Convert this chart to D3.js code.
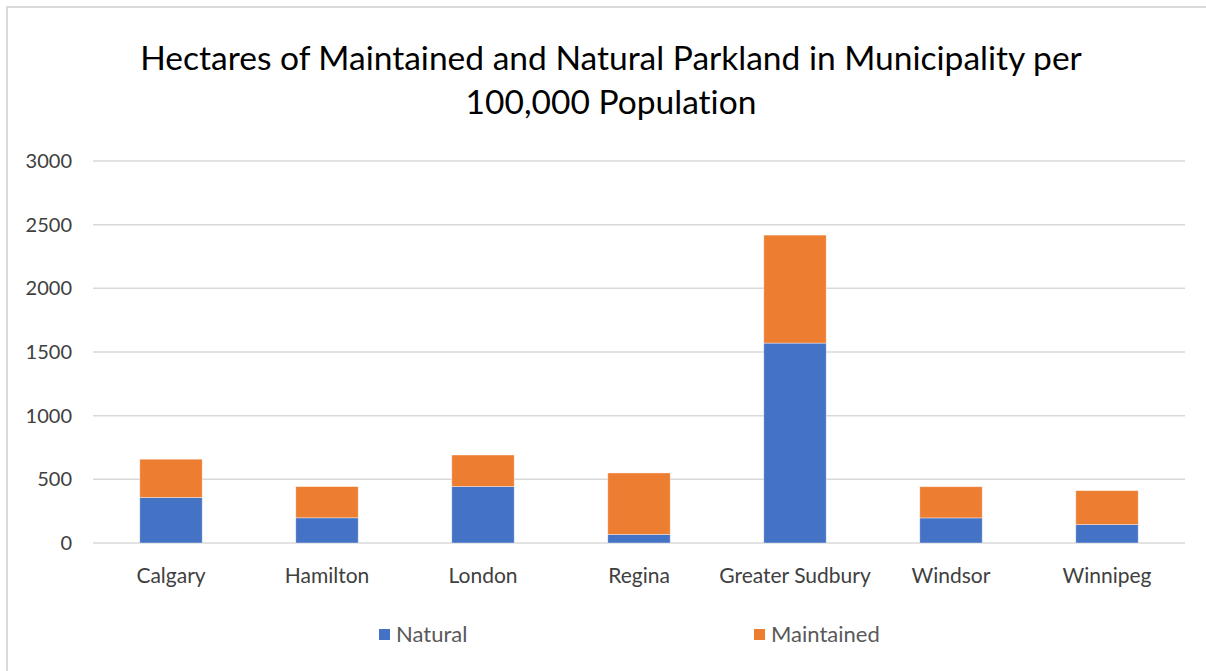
<!DOCTYPE html>
<html>
<head>
<meta charset="utf-8">
<script src="https://cdn.jsdelivr.net/npm/d3@7"></script>
<style>
  body { margin: 0; background: #fff; }
  svg text { font-family: Lato, "Open Sans", sans-serif; font-variant-ligatures: none; }
</style>
</head>
<body>
<div id="chart"></div>
<script>
// data
const cities = ["Calgary", "Hamilton", "London", "Regina", "Greater Sudbury", "Windsor", "Winnipeg"];
const natural = [358, 198, 444, 68, 1570, 197, 145];
const maintained = [300, 245, 247, 482, 848, 245, 266];
const seriesNames = ["Natural", "Maintained"];
const yTicks = [0, 500, 1000, 1500, 2000, 2500, 3000];
const titleLines = ["Hectares of Maintained and Natural Parkland in Municipality per", "100,000 Population"];

const W = 1206, H = 671;
const margin = {top: 161, right: 21, bottom: 128, left: 93};

const colors = d3.scaleOrdinal().domain(seriesNames).range(["#4472C4", "#ED7D31"]);

const svg = d3.select("#chart").append("svg")
  .attr("width", W)
  .attr("height", H);

// frame (only top and left edges show in the original)
svg.append("path")
  .attr("d", "M7,671 V7 H1206")
  .attr("fill", "none")
  .attr("stroke", "#d9d9d9")
  .attr("stroke-width", 2);

// title, sized to match the original width
const title = svg.append("g").attr("class", "title");
const line1 = title.append("text")
  .attr("x", 611).attr("y", 70)
  .attr("text-anchor", "middle")
  .attr("fill", "#000")
  .style("font-size", "30px")
  .text(titleLines[0]);
const fs = 30 * 942 / line1.node().getComputedTextLength();
line1.style("font-size", fs + "px");
title.append("text")
  .attr("x", 611).attr("y", 114)
  .attr("text-anchor", "middle")
  .attr("fill", "#000")
  .style("font-size", fs + "px")
  .text(titleLines[1]);

const x = d3.scaleBand()
  .domain(cities)
  .range([margin.left, W - margin.right])
  .paddingInner(0.6)
  .paddingOuter(0.3);

const y = d3.scaleLinear()
  .domain([0, 3000])
  .range([H - margin.bottom, margin.top]);

// gridlines
svg.append("g")
  .selectAll("line")
  .data(yTicks)
  .enter().append("line")
  .attr("x1", margin.left)
  .attr("x2", W - margin.right)
  .attr("y1", d => y(d))
  .attr("y2", d => y(d))
  .attr("stroke", "#d9d9d9")
  .attr("stroke-width", 1.5);

// y axis labels
const yAxis = d3.axisLeft(y).tickValues(yTicks).tickFormat(d3.format("d")).tickSize(0).tickPadding(0);
svg.append("g")
  .attr("transform", "translate(72,0)")
  .call(yAxis)
  .call(g => g.select(".domain").remove())
  .selectAll("text")
  .attr("fill", "#404040")
  .style("font-size", "20px");

// stacked bars
const rows = cities.map((c, i) => ({city: c, Natural: natural[i], Maintained: maintained[i]}));
const stacked = d3.stack().keys(seriesNames)(rows);

svg.append("g")
  .selectAll("g")
  .data(stacked)
  .enter().append("g")
  .attr("fill", d => colors(d.key))
  .selectAll("rect")
  .data(d => d)
  .enter().append("rect")
  .attr("x", d => x(d.data.city))
  .attr("width", x.bandwidth())
  .attr("y", d => y(d[1]))
  .attr("height", d => y(d[0]) - y(d[1]))
  .attr("stroke", "#fff")
  .attr("stroke-opacity", 0.5)
  .attr("stroke-width", 0.75);

// x axis labels
const xAxis = d3.axisBottom(x).tickSize(0).tickPadding(0);
svg.append("g")
  .attr("transform", "translate(0,568)")
  .call(xAxis)
  .call(g => g.select(".domain").remove())
  .selectAll("text")
  .attr("fill", "#404040")
  .style("font-size", "21px");

// legend
const legendX = [379, 754];
const legend = svg.append("g")
  .selectAll("g")
  .data(seriesNames)
  .enter().append("g")
  .attr("transform", (d, i) => `translate(${legendX[i]},629)`);
legend.append("rect")
  .attr("width", 11)
  .attr("height", 11)
  .attr("fill", d => colors(d));
legend.append("text")
  .attr("x", 17)
  .attr("y", 13)
  .attr("fill", "#595959")
  .style("font-size", "22px")
  .text(d => d);
</script>
</body>
</html>
